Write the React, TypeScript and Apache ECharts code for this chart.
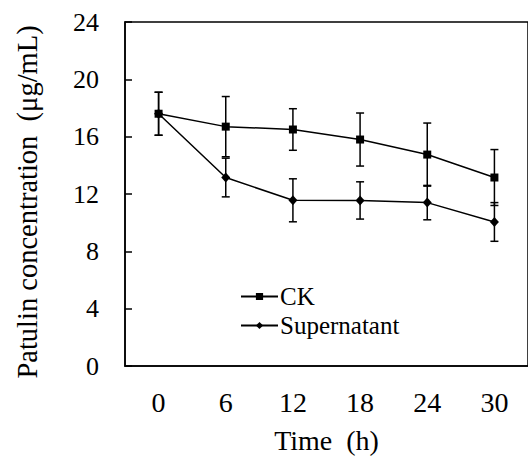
import React, { useEffect, useRef } from "react";
import * as echarts from "echarts";

const categories = ["0", "6", "12", "18", "24", "30"];
const ckMean = [17.6, 16.7, 16.5, 15.8, 14.75, 13.15];
const ckErr = [1.5, 2.1, 1.45, 1.85, 2.2, 1.95];
const supMean = [17.6, 13.15, 11.56, 11.55, 11.4, 10.05];
const supErr = [1.5, 1.35, 1.5, 1.3, 1.2, 1.35];
const yMin = 0;
const yMax = 24;
const yInterval = 4;
const xTitle = "Time  (h)";
const yTitle = "Patulin concentration  (μg/mL)";

const FONT = "Liberation Serif";

function errData(mean: number[], err: number[]) {
  return mean.map((m, i) => [i, m - err[i], m + err[i]]);
}

function renderErr(params: any, api: any) {
  const x = api.value(0);
  const lo = api.coord([x, api.value(1)]);
  const hi = api.coord([x, api.value(2)]);
  const w = 4;
  const style = { stroke: "#000", lineWidth: 1.5 };
  return {
    type: "group",
    children: [
      { type: "line", shape: { x1: hi[0], y1: hi[1], x2: lo[0], y2: lo[1] }, style },
      { type: "line", shape: { x1: hi[0] - w, y1: hi[1], x2: hi[0] + w, y2: hi[1] }, style },
      { type: "line", shape: { x1: lo[0] - w, y1: lo[1], x2: lo[0] + w, y2: lo[1] }, style },
    ],
  };
}

export default function App() {
  const ref = useRef<HTMLDivElement>(null);
  useEffect(() => {
    if (!ref.current) return;
    const chart = echarts.init(ref.current, undefined, { renderer: "svg" });
    chart.setOption({
      animation: false,
      backgroundColor: "#fff",
      textStyle: { fontFamily: FONT },
      grid: {
        left: 125,
        top: 22,
        right: -8,
        bottom: 91,
        show: true,
        borderColor: "#000",
        borderWidth: 1.5,
      },
      graphic: [
        {
          type: "text",
          x: 27,
          y: 202,
          rotation: Math.PI / 2,
          style: {
            text: yTitle,
            fontFamily: FONT,
            fontSize: 28.5,
            fill: "#000",
            align: "center",
            verticalAlign: "middle",
          },
        },
      ],
      legend: {
        data: ["CK", "Supernatant"],
        orient: "vertical",
        left: 235,
        top: 279,
        itemWidth: 37,
        itemHeight: 9,
        itemGap: 4,
        textStyle: { fontFamily: FONT, fontSize: 25, color: "#000", padding: [0, 0, 0, -3] },
      },
      xAxis: {
        type: "category",
        data: categories,
        boundaryGap: true,
        name: xTitle,
        nameLocation: "middle",
        nameGap: 60,
        nameTextStyle: { fontFamily: FONT, fontSize: 28, color: "#000" },
        axisLine: { lineStyle: { color: "#000", width: 1.5 } },
        axisTick: { inside: true, length: 7, lineStyle: { color: "#000", width: 1.5 } },
        axisLabel: { margin: 22, fontFamily: FONT, fontSize: 28, color: "#000" },
        splitLine: { show: false },
      },
      yAxis: {
        type: "value",
        min: yMin,
        max: yMax,
        interval: yInterval,
        axisLine: { show: true, lineStyle: { color: "#000", width: 1.5 } },
        axisTick: { show: true, inside: true, length: 7, lineStyle: { color: "#000", width: 1.5 } },
        axisLabel: { margin: 26, fontFamily: FONT, fontSize: 26, color: "#000" },
        splitLine: { show: false },
      },
      series: [
        {
          type: "custom",
          name: "CK err",
          data: errData(ckMean, ckErr),
          encode: { x: 0, y: [1, 2] },
          renderItem: renderErr,
          z: 1,
        },
        {
          type: "custom",
          name: "Sup err",
          data: errData(supMean, supErr),
          encode: { x: 0, y: [1, 2] },
          renderItem: renderErr,
          z: 1,
        },
        {
          type: "line",
          name: "CK",
          data: ckMean,
          symbol: "rect",
          symbolSize: 8,
          itemStyle: { color: "#000" },
          lineStyle: { color: "#000", width: 1.5 },
          z: 3,
        },
        {
          type: "line",
          name: "Supernatant",
          data: supMean,
          symbol: "diamond",
          symbolSize: [9, 10],
          itemStyle: { color: "#000" },
          lineStyle: { color: "#000", width: 1.5 },
          z: 3,
        },
      ],
    });
    return () => chart.dispose();
  }, []);
  return (
    <div
      ref={ref}
      style={{ position: "fixed", left: 0, top: 0, width: 528, height: 459, background: "#fff" }}
    />
  );
}
